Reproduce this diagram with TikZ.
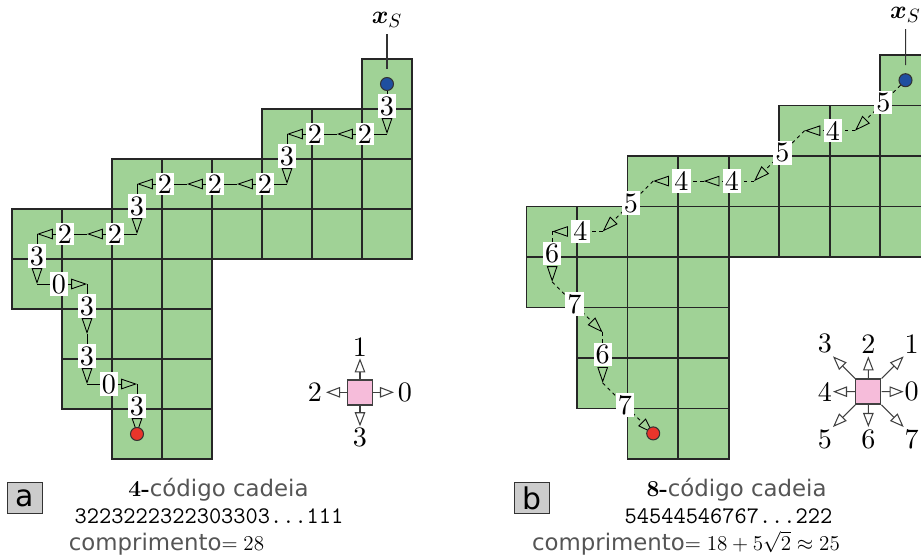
\documentclass[tikz,border=0pt]{standalone}
\usepackage{amsmath,amssymb}
\usepackage{fontspec}
\setsansfont{DejaVu Sans}
\newfontfamily\cdnum{lmroman10-regular.otf}
\usepackage{tikz}
\usetikzlibrary{arrows.meta,calc}
\definecolor{cdgreen}{HTML}{A0D296}
\definecolor{cdpink}{HTML}{F6BCDA}
\definecolor{cdblue}{HTML}{1F4FA0}
\definecolor{cdred}{HTML}{E8352B}
\definecolor{cdgray}{HTML}{555555}
\definecolor{cdbox}{HTML}{CCCCCC}
\newcommand{\dig}{\cdnum\fontsize{16}{19}\selectfont}
\newcommand{\regiao}{%
  \foreach \y/\a/\b in {0/2/3,1/1/3,2/1/3,3/0/3,4/0/7,5/2/7,6/5/7,7/7/7}
    \foreach \x in {\a,...,\b} \draw[celula] (\x,\y) rectangle ++(1,1);}

\begin{document}
\begin{tikzpicture}[
  celula/.style={draw=black!85,fill=cdgreen,line width=0.9pt},
  passo/.style={-{Triangle[open,length=9pt,width=6pt]},line width=0.5pt},
  passoo/.style={passo,dash pattern=on 2pt off 2pt},
  rot/.style={fill=white,inner sep=1.2pt,font=\dig,pos=0.44},
  ponto/.style={circle,draw=black!80,line width=0.6pt,minimum size=0.26cm,inner sep=0pt},
  quad/.style={rectangle,draw=black!75,fill=cdpink,line width=0.8pt,minimum size=0.5cm,inner sep=0pt},
  dir/.style={-{Triangle[open,length=8pt,width=6pt]},line width=0.6pt,black!75},
  letra/.style={rectangle,draw=black!80,fill=cdbox,line width=0.8pt,minimum width=0.7cm,minimum height=0.61cm,inner sep=0pt,font=\fontsize{17}{20}\selectfont\sffamily},
  legenda/.style={anchor=base,inner sep=0pt,font=\fontsize{13}{16}\selectfont}]
\useasboundingbox (0,0) rectangle (18.42,11.16);
\clip (0,0) rectangle (18.42,11.16);
% (a) 4-codigo
\begin{scope}[shift={(0.24,1.98)}]
  \regiao
  \coordinate (a0) at (7.5,7.5);
  \foreach \d [count=\i, evaluate=\i as \j using int(\i-1)] in {3,2,2,3,2,2,2,3,2,2,3,0,3,3,0,3}
    \draw[passo] (a\j) -- node[rot] {\d} ++(90*\d:1) coordinate (a\i);
  \node[ponto,fill=cdblue] (ia) at (a0) {};
  \node[ponto,fill=cdred] (fa) at (a16) {};
  \node (xa) at (7.5,8.78) {\fontsize{15}{17}\selectfont$\boldsymbol{x}_S$};
  \draw[black!80,line width=0.6pt,shorten >=4.5pt] (xa) -- (ia);
  % direcoes
  \node[quad] (qa) at (6.96,1.334) {};
  \foreach \d in {0,...,3} {
    \draw[dir] (qa) -- ++(90*\d:0.68);
    \path (qa) ++(90*\d:0.9) node[font=\dig] {\d};
  }
\end{scope}
% (b) 8-codigo
\begin{scope}[shift={(10.534,1.98)},scale=1.01]
  \regiao
  \coordinate (b0) at (7.5,7.5);
  \foreach \d [count=\i, evaluate=\i as \j using int(\i-1)] in {5,4,5,4,4,5,4,6,7,6,7}
    \draw[passoo] (b\j) -- node[rot] {\d} ++({round(cos(45*\d))},{round(sin(45*\d))}) coordinate (b\i);
  \node[ponto,fill=cdblue] (ib) at (b0) {};
  \node[ponto,fill=cdred] (fb) at (b11) {};
  \node (xb) at (7.5,8.79) {\fontsize{15}{17}\selectfont$\boldsymbol{x}_S$};
  \draw[black!80,line width=0.6pt,shorten >=4.5pt] (xb) -- (ib);
  % direcoes
  \node[quad] (qb) at (6.764,1.333) {};
  \foreach \d in {0,...,7} {
    \draw[dir] (qb) -- ++({0.7*round(cos(45*\d))},{0.7*round(sin(45*\d))});
    \path (qb) ++({0.86*round(cos(45*\d))},{0.95*round(sin(45*\d))}) node[font=\dig] {\d};
  }
\end{scope}
% legendas
\node[letra] (la) at (0.5,1.2) {a};
\node[legenda] (ca) at (4.37,1.24) {{\bfseries 4-}\textcolor{cdgray}{\sffamily código cadeia}};
\node[legenda] (sa) at (4.18,0.694) {\fontsize{13.5}{16}\selectfont\ttfamily 3223222322303303...111};
\node[legenda] (ma) at (3.33,0.16) {\textcolor{cdgray}{\sffamily comprimento}$=28$};
\node[letra] (lb) at (10.64,1.2) {b};
\node[legenda] (cb) at (14.73,1.24) {{\bfseries 8-}\textcolor{cdgray}{\sffamily código cadeia}};
\node[legenda] (sb) at (14.57,0.694) {\fontsize{13.5}{16}\selectfont\ttfamily 54544546767...222};
\node[legenda] (mb) at (13.72,0.16) {\textcolor{cdgray}{\sffamily comprimento}$=18+5\sqrt{2}\approx25$};
\end{tikzpicture}
\end{document}
